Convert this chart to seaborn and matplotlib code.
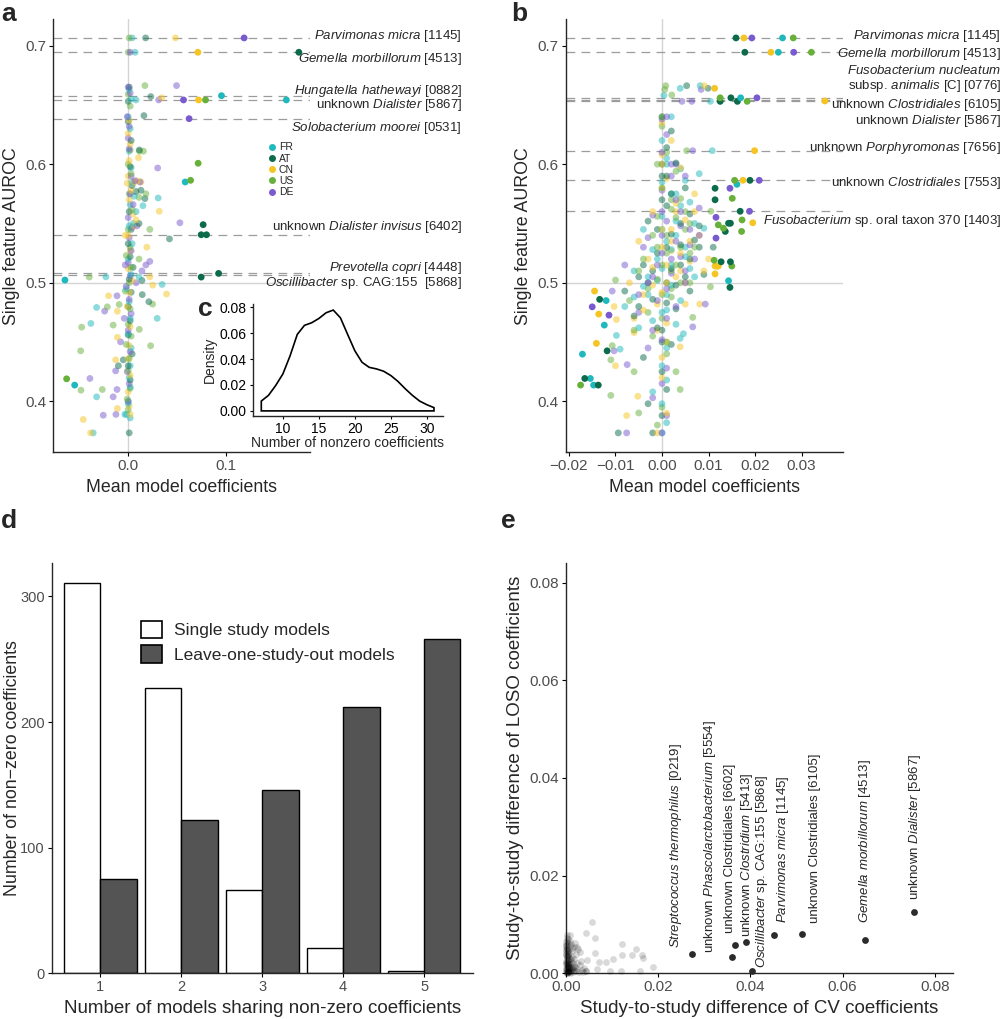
import numpy as np
import pandas as pd
import matplotlib
matplotlib.use('Agg')
import matplotlib.pyplot as plt
import matplotlib.transforms as mtransforms
from matplotlib.lines import Line2D
from matplotlib.patches import Patch
from matplotlib.ticker import FuncFormatter
import seaborn as sns

##### data #####
studies = ['FR', 'AT', 'CN', 'US', 'DE']
study_cols = ['#1fb9bd', '#0b6b4b', '#f5c523', '#67b03a', '#7a5acf']

# panel a: (mean model coefficient, single feature AUROC) per study
a_fr = [(0.001, 0.663), (0.003, 0.655), (0.0, 0.640), (0.002, 0.630), (0.001, 0.611), (0.003, 0.597),
        (0.004, 0.585), (0.006, 0.573), (0.002, 0.566), (0.008, 0.560), (0.001, 0.548), (0.004, 0.533),
        (0.0, 0.520), (0.003, 0.507), (-0.002, 0.495), (0.001, 0.484), (0.002, 0.470), (0.0, 0.457),
        (0.003, 0.445), (0.002, 0.430), (0.001, 0.420), (0.002, 0.412), (0.0, 0.398), (-0.002, 0.389),
        (0.002, 0.386), (0.004, 0.7065), (0.007, 0.6944), (0.008, 0.6542), (0.095, 0.6578), (0.161, 0.6542),
        (0.058, 0.585), (0.0305, 0.5715), (0.0345, 0.4986), (0.0295, 0.470), (0.015, 0.565), (0.005, 0.550),
        (-0.0644, 0.5023), (-0.0227, 0.505), (-0.0322, 0.4792), (-0.038, 0.4657), (-0.0545, 0.4137),
        (-0.0322, 0.4038), (-0.0356, 0.3734), (-0.0034, 0.389), (0.011, 0.505), (0.0, 0.400)]
a_at = [(0.001, 0.665), (0.0, 0.653), (0.0, 0.636), (0.003, 0.620), (0.002, 0.598), (0.004, 0.582),
        (0.008, 0.577), (0.001, 0.560), (0.003, 0.545), (0.0, 0.533), (0.002, 0.522), (0.005, 0.513),
        (0.001, 0.503), (0.003, 0.492), (0.0, 0.480), (0.002, 0.468), (0.0, 0.456), (0.004, 0.440),
        (0.0, 0.430), (0.002, 0.418), (0.001, 0.3734), (-0.005, 0.435), (0.0177, 0.7065), (0.1737, 0.6944),
        (0.023, 0.657), (0.016, 0.641), (0.0113, 0.612), (0.017, 0.571), (0.013, 0.578), (0.0743, 0.5405),
        (0.0797, 0.5405), (0.0763, 0.549), (0.042, 0.537), (0.092, 0.5079), (0.0743, 0.5048), (0.0143, 0.490),
        (0.021, 0.484), (0.014, 0.502), (-0.010, 0.430), (0.011, 0.550)]
a_cn = [(0.001, 0.637), (0.0, 0.626), (0.002, 0.617), (0.001, 0.603), (0.0, 0.590), (-0.001, 0.584),
        (0.003, 0.578), (0.006, 0.585), (0.001, 0.570), (0.005, 0.558), (0.008, 0.553), (0.006, 0.548),
        (0.0, 0.540), (0.002, 0.527), (0.0, 0.512), (0.004, 0.502), (0.001, 0.492), (-0.001, 0.480),
        (0.002, 0.463), (0.001, 0.447), (0.0, 0.436), (0.002, 0.422), (0.0, 0.408), (0.001, 0.396),
        (0.002, 0.389), (-0.003, 0.540), (0.048, 0.7065), (0.0709, 0.6944), (0.034, 0.656), (0.0716, 0.6542),
        (0.0104, 0.6055), (0.0316, 0.5603), (0.022, 0.505), (0.025, 0.498), (0.039, 0.4905), (-0.011, 0.394),
        (-0.0128, 0.435), (-0.011, 0.454), (-0.020, 0.489), (-0.011, 0.476), (-0.0458, 0.3847),
        (-0.0383, 0.3734), (0.013, 0.585), (0.009, 0.586), (0.019, 0.530)]
a_us = [(0.001, 0.7065), (0.0, 0.6944), (0.0, 0.659), (0.002, 0.649), (0.002, 0.612), (0.0, 0.600),
        (0.003, 0.592), (0.001, 0.575), (0.004, 0.562), (0.0, 0.545), (0.002, 0.530), (-0.002, 0.523),
        (0.003, 0.513), (0.001, 0.500), (-0.003, 0.493), (0.002, 0.478), (0.0, 0.465), (0.003, 0.455),
        (-0.002, 0.448), (0.001, 0.436), (0.0, 0.426), (0.002, 0.411), (-0.001, 0.402), (0.0, 0.393),
        (0.0787, 0.6542), (0.0712, 0.6008), (0.0635, 0.5864), (0.017, 0.6663), (0.0155, 0.611),
        (0.0115, 0.611), (0.018, 0.575), (0.011, 0.572), (0.0248, 0.482), (0.0228, 0.4469), (0.0113, 0.4607),
        (-0.0213, 0.4797), (-0.0474, 0.4626), (-0.0484, 0.4426), (-0.0627, 0.419), (-0.0481, 0.4094),
        (-0.0264, 0.410), (-0.0397, 0.5048), (-0.0153, 0.4643), (-0.0092, 0.4817), (0.022, 0.545), (0.011, 0.520)]
a_de = [(0.0, 0.665), (0.002, 0.660), (-0.001, 0.640), (0.001, 0.632), (0.0, 0.622), (0.001, 0.613),
        (0.003, 0.590), (0.007, 0.586), (0.002, 0.575), (0.005, 0.566), (0.0, 0.555), (0.004, 0.547),
        (0.001, 0.538), (0.003, 0.527), (0.0, 0.517), (0.002, 0.506), (-0.002, 0.497), (0.001, 0.486),
        (0.003, 0.474), (0.0, 0.460), (0.002, 0.442), (-0.001, 0.425), (0.001, 0.415), (0.0, 0.400),
        (-0.003, 0.515), (-0.004, 0.470), (0.118, 0.7065), (0.002, 0.6944), (0.0563, 0.6542), (0.031, 0.6542),
        (0.062, 0.6384), (0.0492, 0.6663), (0.0526, 0.5506), (0.030, 0.5968), (0.012, 0.585), (0.014, 0.510),
        (0.018, 0.515), (0.022, 0.518), (-0.024, 0.4761), (-0.039, 0.4193), (-0.0153, 0.4038),
        (-0.0254, 0.3883), (-0.0125, 0.389), (-0.0114, 0.410), (-0.0128, 0.4257), (-0.0078, 0.4502),
        (-0.0114, 0.489), (0.009, 0.548), (0.008, 0.500)]
a_lines = [0.7065, 0.6944, 0.6578, 0.6542, 0.6384, 0.5405, 0.5085, 0.5062]
a_names = [r'$\mathit{Parvimonas\ micra}$ [1145]',
           r'$\mathit{Gemella\ morbillorum}$ [4513]',
           r'$\mathit{Hungatella\ hathewayi}$ [0882]',
           r'unknown $\mathit{Dialister}$ [5867]',
           r'$\mathit{Solobacterium\ moorei}$ [0531]',
           r'unknown $\mathit{Dialister\ invisus}$ [6402]',
           r'$\mathit{Prevotella\ copri}$ [4448]',
           r'$\mathit{Oscillibacter}$ sp. CAG:155  [5868]']
a_name_y = [0.7082, 0.6885, 0.662, 0.650, 0.6303, 0.5473, 0.5122, 0.4995]

# panel b
b_fr = [(0.0259, 0.7065), (0.025, 0.6944), (0.0169, 0.656), (0.0104, 0.653), (0.0161, 0.583), (0.0143, 0.5017),
        (-0.0124, 0.4643), (-0.0171, 0.4398), (-0.0154, 0.4193), (-0.0147, 0.4137),
        (0.0004, 0.658), (0.0039, 0.664), (0.0082, 0.6662), (0.0108, 0.6114), (0.005, 0.5864), (0.0, 0.620),
        (0.001, 0.605), (0.004, 0.596), (0.008, 0.592), (0.002, 0.575), (0.006, 0.568), (-0.004, 0.545),
        (0.003, 0.552), (0.009, 0.546), (0.001, 0.535), (-0.002, 0.528), (0.005, 0.522), (0.0, 0.512),
        (0.007, 0.505), (-0.006, 0.510), (0.002, 0.498), (-0.003, 0.490), (0.004, 0.485), (-0.008, 0.480),
        (0.0, 0.475), (0.003, 0.465), (-0.005, 0.462), (0.0039, 0.4531), (0.0046, 0.457), (0.001, 0.445),
        (-0.009, 0.444), (0.0, 0.430), (0.001, 0.418), (-0.002, 0.408), (0.0, 0.398), (0.001, 0.382),
        (0.0, 0.3734), (-0.0098, 0.4556), (-0.012, 0.485), (-0.001, 0.502), (0.002, 0.515), (0.005, 0.530),
        (-0.004, 0.497), (0.0, 0.556), (0.003, 0.540), (0.006, 0.512), (-0.006, 0.488), (0.001, 0.477),
        (0.004, 0.565), (-0.002, 0.468), (0.007, 0.550), (0.0, 0.585), (0.001, 0.600), (0.002, 0.640),
        (-0.001, 0.520), (0.002, 0.528), (-0.003, 0.505), (0.001, 0.490), (0.003, 0.575), (0.0, 0.545)]
b_at = [(0.0159, 0.7065), (0.0178, 0.6944), (0.0125, 0.653), (0.0148, 0.656), (0.0162, 0.653), (0.0189, 0.5864),
        (0.0168, 0.5603), (0.0114, 0.5797), (0.0114, 0.570), (0.0143, 0.5502), (0.0147, 0.5502), (0.0136, 0.5433),
        (0.0127, 0.5177), (0.0147, 0.5177), (0.0146, 0.4961), (-0.0134, 0.486), (-0.0118, 0.4426),
        (-0.0166, 0.4193), (-0.0137, 0.4137),
        (0.0053, 0.6662), (0.0099, 0.664), (0.0, 0.640), (0.002, 0.628), (0.001, 0.614), (0.003, 0.601),
        (0.0, 0.590), (0.005, 0.580), (0.001, 0.565), (0.006, 0.558), (-0.003, 0.552), (0.002, 0.541),
        (0.007, 0.536), (-0.001, 0.525), (0.004, 0.515), (-0.005, 0.505), (0.001, 0.500), (0.006, 0.493),
        (-0.002, 0.486), (0.003, 0.478), (-0.006, 0.472), (0.0, 0.460), (0.002, 0.448), (-0.004, 0.437),
        (0.0, 0.425), (0.001, 0.410), (-0.003, 0.398), (0.0, 0.388), (-0.002, 0.3734), (-0.0094, 0.3734),
        (0.009, 0.507), (0.011, 0.530), (-0.008, 0.493), (0.008, 0.548), (0.001, 0.530), (-0.002, 0.510),
        (0.004, 0.550), (0.003, 0.498), (-0.005, 0.480), (0.0, 0.570), (0.006, 0.520), (0.002, 0.575),
        (-0.001, 0.462), (0.005, 0.505), (0.0, 0.450), (0.008, 0.530), (-0.003, 0.500), (0.001, 0.590),
        (0.0, 0.600), (0.002, 0.512), (-0.001, 0.545), (0.004, 0.532), (0.001, 0.483), (-0.004, 0.515)]
b_cn = [(0.0176, 0.7065), (0.0234, 0.6944), (0.035, 0.6533), (0.0113, 0.664), (0.0199, 0.6114), (0.0174, 0.5864),
        (0.0195, 0.5506), (0.0118, 0.514), (0.0114, 0.5075), (0.0114, 0.5141), (0.0121, 0.5141),
        (-0.0145, 0.493), (-0.0136, 0.4736), (-0.0141, 0.4489),
        (0.0091, 0.6662), (0.0, 0.635), (0.002, 0.620), (0.0, 0.608), (0.004, 0.597), (0.001, 0.588),
        (0.007, 0.575), (0.003, 0.567), (-0.002, 0.560), (0.005, 0.553), (0.0, 0.545), (0.008, 0.540),
        (-0.005, 0.535), (0.002, 0.527), (0.006, 0.518), (-0.002, 0.513), (0.003, 0.505), (-0.007, 0.500),
        (0.0, 0.492), (0.005, 0.482), (-0.004, 0.477), (0.0081, 0.482), (0.001, 0.466), (-0.006, 0.458),
        (0.0039, 0.446), (0.0, 0.437), (-0.0103, 0.480), (-0.0098, 0.469), (-0.0076, 0.388), (-0.0052, 0.4043),
        (0.0, 0.420), (0.001, 0.390), (-0.001, 0.3734), (-0.010, 0.430), (0.010, 0.520), (0.009, 0.510),
        (0.0, 0.530), (0.003, 0.560), (-0.003, 0.520), (0.006, 0.535), (0.001, 0.500), (-0.004, 0.490),
        (0.004, 0.510), (0.002, 0.545), (-0.001, 0.460), (0.007, 0.560), (0.0, 0.580), (-0.006, 0.470),
        (0.001, 0.450), (0.005, 0.500), (0.0, 0.600), (0.002, 0.535), (-0.002, 0.498), (0.004, 0.525),
        (0.001, 0.515), (-0.001, 0.482)]
b_us = [(0.0282, 0.7065), (0.0321, 0.6944), (0.0125, 0.656), (0.0183, 0.653), (0.0156, 0.5864), (0.0151, 0.5712),
        (0.0121, 0.5488), (0.0132, 0.546), (0.0171, 0.5433), (0.0172, 0.553), (0.0112, 0.519), (0.015, 0.5141),
        (-0.0175, 0.4137),
        (0.0008, 0.6662), (0.0006, 0.663), (0.0021, 0.6584), (0.0053, 0.6114), (0.0105, 0.5603), (0.0, 0.632),
        (0.001, 0.610), (0.003, 0.594), (0.0, 0.580), (0.004, 0.571), (0.002, 0.562), (-0.001, 0.556),
        (0.006, 0.550), (0.001, 0.540), (0.004, 0.530), (-0.004, 0.520), (0.002, 0.510), (-0.001, 0.503),
        (0.0104, 0.4966), (0.006, 0.500), (-0.003, 0.495), (0.002, 0.488), (-0.007, 0.485), (0.0066, 0.4708),
        (0.0, 0.470), (-0.002, 0.455), (0.001, 0.440), (-0.0107, 0.447), (-0.011, 0.435), (0.0039, 0.410),
        (-0.011, 0.405), (-0.005, 0.3902), (-0.001, 0.380), (-0.010, 0.5023), (0.0, 0.395), (0.003, 0.425),
        (-0.006, 0.425), (0.001, 0.525), (-0.002, 0.540), (0.004, 0.500), (0.002, 0.570), (-0.005, 0.510),
        (0.006, 0.525), (0.0, 0.490), (0.003, 0.555), (-0.003, 0.475), (0.005, 0.545), (0.001, 0.450),
        (-0.001, 0.600), (0.007, 0.530), (-0.006, 0.460), (0.0, 0.640), (0.003, 0.515), (-0.001, 0.530),
        (0.002, 0.495), (0.0, 0.515), (0.005, 0.560)]
b_de = [(0.0193, 0.7065), (0.0283, 0.6944), (0.0204, 0.656), (0.0209, 0.5864), (0.0188, 0.5603), (0.0146, 0.5797),
        (0.0116, 0.5552), (0.0116, 0.5377), (-0.015, 0.4797), (-0.0114, 0.4727),
        (0.0084, 0.663), (0.0064, 0.653), (0.0043, 0.653), (0.0066, 0.6114), (0.0, 0.638), (0.001, 0.625),
        (0.0, 0.610), (0.002, 0.600), (0.005, 0.590), (0.0, 0.578), (0.003, 0.570), (0.008, 0.563),
        (-0.002, 0.557), (0.004, 0.548), (0.0, 0.540), (0.006, 0.532), (-0.004, 0.530), (0.002, 0.520),
        (0.005, 0.510), (-0.002, 0.505), (0.001, 0.495), (-0.005, 0.490), (0.003, 0.480), (-0.0107, 0.493),
        (0.0093, 0.482), (0.0066, 0.4628), (0.0, 0.452), (-0.003, 0.445), (-0.0103, 0.4426), (-0.0075, 0.431),
        (0.001, 0.428), (0.0, 0.415), (-0.002, 0.403), (0.001, 0.388), (-0.0076, 0.3734), (0.0, 0.3734),
        (0.007, 0.520), (-0.008, 0.515), (0.0, 0.525), (0.003, 0.535), (-0.001, 0.515), (0.004, 0.560),
        (-0.003, 0.500), (0.006, 0.545), (0.001, 0.470), (-0.005, 0.475), (0.002, 0.590), (0.005, 0.500),
        (0.0, 0.560), (-0.002, 0.460), (0.008, 0.540), (0.001, 0.640), (0.003, 0.600), (0.002, 0.508),
        (-0.001, 0.485), (0.004, 0.522), (0.001, 0.552), (-0.003, 0.538)]
b_lines = [0.7065, 0.6944, 0.6561, 0.6542, 0.6533, 0.6114, 0.5864, 0.5603]
b_names = [r'$\mathit{Parvimonas\ micra}$ [1145]',
           r'$\mathit{Gemella\ morbillorum}$ [4513]',
           r'$\mathit{Fusobacterium\ nucleatum}$',
           r'subsp. $\mathit{animalis}$ [C] [0776]',
           r'unknown $\mathit{Clostridiales}$ [6105]',
           r'unknown $\mathit{Dialister}$ [5867]',
           r'unknown $\mathit{Porphyromonas}$ [7656]',
           r'unknown $\mathit{Clostridiales}$ [7553]',
           r'$\mathit{Fusobacterium}$ sp. oral taxon 370 [1403]']
b_name_y = [0.7082, 0.6927, 0.6789, 0.666, 0.650, 0.6365, 0.6139, 0.5839, 0.552]

# panel c: density of number of nonzero coefficients
c_x = [7, 8, 9, 10, 11, 12, 13, 14, 15, 16, 17, 18, 19, 20, 21, 22, 23, 24, 25, 26, 27, 28, 29, 30, 31]
c_density = [0.0076, 0.012, 0.0196, 0.0285, 0.0425, 0.059, 0.066, 0.068, 0.0713, 0.0757, 0.0778, 0.0718,
             0.059, 0.0464, 0.0375, 0.0336, 0.0324, 0.0306, 0.0273, 0.0227, 0.0171, 0.012, 0.0076, 0.0048, 0.0025]

# panel d
d_shared = [1, 2, 3, 4, 5]
d_single = [311, 227, 66, 20, 2]
d_loso = [75, 122, 146, 212, 266]

# panel e
e_cv = [0.0002, 0.0004, 0.0001, 0.0006, 0.0003, 0.0008, 0.0002, 0.0010, 0.0005, 0.0012, 0.0001, 0.0003, 0.0007,
        0.0015, 0.0002, 0.0009, 0.0004, 0.0018, 0.0001, 0.0006, 0.0011, 0.0002, 0.0020, 0.0005, 0.0013, 0.0003,
        0.0016, 0.0008, 0.0001, 0.0022, 0.0004, 0.0010, 0.0025, 0.0002, 0.0014, 0.0006, 0.0019, 0.0028, 0.0009,
        0.0017, 0.0023, 0.0012, 0.0030, 0.0001, 0.0000, 0.0000, 0.0000, 0.0003, 0.0007, 0.0004, 0.0011, 0.0015,
        0.0006, 0.0002, 0.0035, 0.0033, 0.0026, 0.0021, 0.0040, 0.0038, 0.0045, 0.0031,
        0.0001, 0.0003, 0.0005, 0.0002, 0.0004, 0.0001, 0.0006, 0.0008, 0.0003, 0.0002, 0.0005, 0.0009,
        0.0001, 0.0004, 0.0007, 0.0002, 0.0012, 0.0003, 0.0006, 0.0001, 0.0010, 0.0004, 0.0002, 0.0014,
        0.0005, 0.0008, 0.0003, 0.0001, 0.0017, 0.0006, 0.0011, 0.0002, 0.0024, 0.0013,
        0.0058, 0.0044, 0.0063, 0.0063, 0.0047, 0.0073, 0.0087, 0.0103, 0.0123, 0.0123, 0.0143, 0.0152, 0.0165,
        0.0168, 0.0190, 0.0119, 0.0096, 0.0067, 0.0043, 0.0161, 0.0024, 0.0009]
e_loso = [0.0001, 0.0003, 0.0006, 0.0002, 0.0010, 0.0005, 0.0015, 0.0001, 0.0020, 0.0008, 0.0025, 0.0030, 0.0012,
          0.0003, 0.0035, 0.0018, 0.0040, 0.0006, 0.0045, 0.0028, 0.0024, 0.0052, 0.0012, 0.0048, 0.0034, 0.0058,
          0.0020, 0.0042, 0.0064, 0.0004, 0.0070, 0.0055, 0.0009, 0.0078, 0.0046, 0.0061, 0.0030, 0.0002, 0.0066,
          0.0053, 0.0040, 0.0060, 0.0016, 0.0020, 0.0010, 0.0040, 0.0055, 0.0005, 0.0008, 0.0016, 0.0013, 0.0010,
          0.0036, 0.0022, 0.0006, 0.0025, 0.0050, 0.0061, 0.0011, 0.0003, 0.0005, 0.0044,
          0.0002, 0.0001, 0.0004, 0.0008, 0.0012, 0.0018, 0.0003, 0.0006, 0.0024, 0.0033, 0.0015, 0.0002,
          0.0038, 0.0027, 0.0010, 0.0043, 0.0004, 0.0050, 0.0019, 0.0058, 0.0031, 0.0013, 0.0067, 0.0008,
          0.0036, 0.0022, 0.0072, 0.0049, 0.0014, 0.0045, 0.0030, 0.0003, 0.0021, 0.0052]
e_loso += [0.0106, 0.0082, 0.0072, 0.0042, 0.0027, 0.0024, 0.0024, 0.0029, 0.0059, 0.0037, 0.0037, 0.0049, 0.0037,
           0.0031, 0.0012, 0.0005, 0.0005, 0.0008, 0.0005, 0.0005, 0.0054, 0.0078]
e_top_cv = [0.0273, 0.0361, 0.0368, 0.0391, 0.0404, 0.0451, 0.0512, 0.0649, 0.0755]
e_top_loso = [0.0039, 0.0033, 0.0057, 0.0065, 0.0005, 0.0078, 0.0081, 0.0068, 0.0126]
e_top_names = [r'$\mathit{Streptococcus\ thermophilus}$ [0219]',
               r'unknown $\mathit{Phascolarctobacterium}$ [5554]',
               r'unknown Clostridiales [6602]',
               r'unknown $\mathit{Clostridium}$ [5413]',
               r'$\mathit{Oscillibacter}$ sp. CAG:155 [5868]',
               r'$\mathit{Parvimonas\ micra}$ [1145]',
               r'unknown Clostridiales [6105]',
               r'$\mathit{Gemella\ morbillorum}$ [4513]',
               r'unknown $\mathit{Dialister}$ [5867]']
# where the repelled labels sit (x centre, bottom)
e_lab_x = [0.0240, 0.0313, 0.0356, 0.0392, 0.0425, 0.0472, 0.0540, 0.0648, 0.0757]
e_lab_y = [0.0051, 0.0041, 0.0082, 0.0075, 0.0010, 0.0102, 0.0102, 0.0102, 0.0150]

##### style #####
sns.set_theme(style='ticks')
plt.rcParams['font.family'] = ['Liberation Sans', 'DejaVu Sans']
plt.rcParams['mathtext.fontset'] = 'custom'
plt.rcParams['mathtext.rm'] = 'Liberation Sans'
plt.rcParams['mathtext.it'] = 'Liberation Sans:italic'
plt.rcParams['mathtext.bf'] = 'Liberation Sans:bold'
plt.rcParams['axes.linewidth'] = 1.0
plt.rcParams['xtick.major.size'] = 3
plt.rcParams['ytick.major.size'] = 3
plt.rcParams['xtick.major.width'] = 0.8
plt.rcParams['ytick.major.width'] = 0.8

pal = dict(zip(studies, study_cols))
TICK_C = '#4d4d4d'
DASH_C = '#9c9c9c'
REF_C = '#d4d4d4'
PT = 24


def style_axes(ax, tick_size=11):
    sns.despine(ax=ax)
    ax.tick_params(labelsize=tick_size, labelcolor=TICK_C, color='black', pad=2)
    ax.set_facecolor('none')


def study_frame(lists):
    rows = []
    for st, pts in zip(studies, lists):
        for x, y in pts:
            rows.append((st, x, y))
    df = pd.DataFrame(rows, columns=['study', 'coef', 'auroc'])
    return df.sort_values('auroc', kind='stable')


def draw_scatter(ax, df, cut):
    faint = df[df['coef'].abs() <= cut]
    strong = df[df['coef'].abs() > cut]
    sns.scatterplot(data=faint, x='coef', y='auroc', hue='study', palette=pal, s=PT, alpha=0.5,
                    linewidth=0, legend=False, ax=ax, zorder=3)
    sns.scatterplot(data=strong, x='coef', y='auroc', hue='study', palette=pal, s=PT, alpha=1,
                    linewidth=0, legend=False, ax=ax, zorder=4)


def fmt2(v, pos):
    return f'{v:.2f}'.replace('-', '\u2212')


def fmt1(v, pos):
    return f'{v:.1f}'.replace('-', '\u2212')


fig = plt.figure(figsize=(10.03, 10.19), dpi=100)
ax_a = fig.add_axes([0.0531, 0.5561, 0.2559, 0.4253])
ax_b = fig.add_axes([0.5640, 0.5561, 0.2765, 0.4253])
ax_c = fig.add_axes([0.2519, 0.5918, 0.1894, 0.1099])
ax_d = fig.add_axes([0.0515, 0.0449, 0.4197, 0.4024])
ax_e = fig.add_axes([0.5640, 0.0449, 0.3864, 0.4024])

##### panels a and b #####
for ax, lists, lines, names, name_y, cut, xl, xt, fmt, lab_x in [
        (ax_a, [a_fr, a_at, a_cn, a_us, a_de], a_lines, a_names, a_name_y, 0.054,
         (-0.0763, 0.185), [0.0, 0.1], fmt1, 1.592),
        (ax_b, [b_fr, b_at, b_cn, b_us, b_de], b_lines, b_names, b_name_y, 0.0111,
         (-0.0207, 0.0389), [-0.02, -0.01, 0.0, 0.01, 0.02, 0.03], fmt2, 1.570)]:
    ax.axhline(0.5, color=REF_C, lw=1, zorder=1)
    ax.axvline(0.0, color=REF_C, lw=1, zorder=1)
    for y in lines:
        ax.axhline(y, color=DASH_C, lw=0.9, ls=(0, (7, 5)), zorder=2)
    draw_scatter(ax, study_frame(lists), cut)
    ax.set_xlim(*xl)
    ax.set_ylim(0.357, 0.7225)
    ax.set_xticks(xt)
    ax.xaxis.set_major_formatter(FuncFormatter(fmt))
    ax.set_yticks([0.4, 0.5, 0.6, 0.7])
    ax.yaxis.set_major_formatter(FuncFormatter(fmt1))
    ax.set_xlabel('Mean model coefficients', fontsize=12.8, labelpad=4)
    ax.set_ylabel('Single feature AUROC', fontsize=12.8, labelpad=4)
    style_axes(ax)
    tr = mtransforms.blended_transform_factory(ax.transAxes, ax.transData)
    for txt, y in zip(names, name_y):
        ax.text(lab_x, y, txt, transform=tr, ha='right', va='center', fontsize=9.5, clip_on=False)

handles = [Line2D([], [], marker='o', ls='', color=c, markersize=5, markeredgewidth=0)
           for c in study_cols]
ax_a.legend(handles, studies, loc='upper left', bbox_to_anchor=(0.81, 0.725), frameon=False,
            fontsize=7.5, handletextpad=0.1, labelspacing=0.12, borderaxespad=0, handlelength=1.2)

##### panel c #####
c_outline_x = [c_x[0]] + c_x + [c_x[-1], c_x[0]]
c_outline_y = [0.0] + c_density + [0.0, 0.0]
ax_c.fill(c_outline_x, c_outline_y, facecolor='none', edgecolor='black', lw=1.2)
ax_c.set_xlim(5.8, 32.2)
ax_c.set_ylim(-0.0039, 0.0825)
ax_c.set_xticks([10, 15, 20, 25, 30])
ax_c.set_yticks([0.0, 0.02, 0.04, 0.06, 0.08])
ax_c.yaxis.set_major_formatter(FuncFormatter(fmt2))
ax_c.set_xlabel('Number of nonzero coefficients', fontsize=10, labelpad=0)
ax_c.set_ylabel('Density', fontsize=10, labelpad=2)
style_axes(ax_c, tick_size=10)
ax_c.tick_params(labelcolor='black', length=2.5)
ax_c.patch.set_alpha(0)

##### panel d #####
d_df = pd.DataFrame({'shared': d_shared * 2,
                     'count': d_single + d_loso,
                     'model': ['Single study models'] * 5 + ['Leave-one-study-out models'] * 5})
sns.barplot(data=d_df, x='shared', y='count', hue='model', palette=['white', '#545454'],
            edgecolor='black', linewidth=1, width=0.9, saturation=1, legend=False, ax=ax_d)
ax_d.set_xlim(-0.6, 4.6)
ax_d.set_ylim(0, 326.5)
ax_d.set_yticks([0, 100, 200, 300])
ax_d.set_xlabel('Number of models sharing non-zero coefficients', fontsize=13.5, labelpad=4)
ax_d.set_ylabel('Number of non\u2212zero coefficients', fontsize=12.8)
style_axes(ax_d, tick_size=10.5)
ax_d.yaxis.set_label_coords(-0.073, 0.5)
d_handles = [Patch(facecolor='white', edgecolor='black', lw=1.2),
             Patch(facecolor='#545454', edgecolor='black', lw=1.2)]
ax_d.legend(d_handles, ['Single study models', 'Leave-one-study-out models'], loc='upper left',
            bbox_to_anchor=(0.212, 0.86), frameon=False, fontsize=12.5, borderaxespad=0, borderpad=0,
            handlelength=1.2, handleheight=1.2, handletextpad=0.7, labelspacing=0.4)

##### panel e #####
e_df = pd.DataFrame({'cv': e_cv, 'loso': e_loso})
top_df = pd.DataFrame({'cv': e_top_cv, 'loso': e_top_loso, 'name': e_top_names})
sns.scatterplot(data=e_df, x='cv', y='loso', color='black', alpha=0.15, s=PT, linewidth=0,
                ax=ax_e, clip_on=False, zorder=3)
sns.scatterplot(data=top_df, x='cv', y='loso', color='#2b2b2b', s=PT, linewidth=0,
                ax=ax_e, clip_on=False, zorder=4)
for txt, lx, ly in zip(e_top_names, e_lab_x, e_lab_y):
    ax_e.text(lx, ly, txt, rotation=90, ha='center', va='bottom', fontsize=9.5)
ax_e.set_xlim(0, 0.084)
ax_e.set_ylim(0, 0.084)
ticks_e = [0.0, 0.02, 0.04, 0.06, 0.08]
ax_e.set_xticks(ticks_e)
ax_e.set_yticks(ticks_e)
ax_e.xaxis.set_major_formatter(FuncFormatter(fmt2))
ax_e.yaxis.set_major_formatter(FuncFormatter(fmt2))
ax_e.set_xlabel('Study-to-study difference of CV coefficients', fontsize=13.5, labelpad=4)
ax_e.set_ylabel('Study-to-study difference of LOSO coefficients', fontsize=13.5, labelpad=4)
style_axes(ax_e)

##### panel letters #####
for letter, x, y in [('a', 0.001, 0.998), ('b', 0.510, 0.998), ('c', 0.197, 0.709),
                     ('d', 0.001, 0.500), ('e', 0.500, 0.500)]:
    fig.text(x, y, letter, fontsize=19, fontweight='bold', ha='left', va='top')

fig.savefig('out.png', dpi=100)
